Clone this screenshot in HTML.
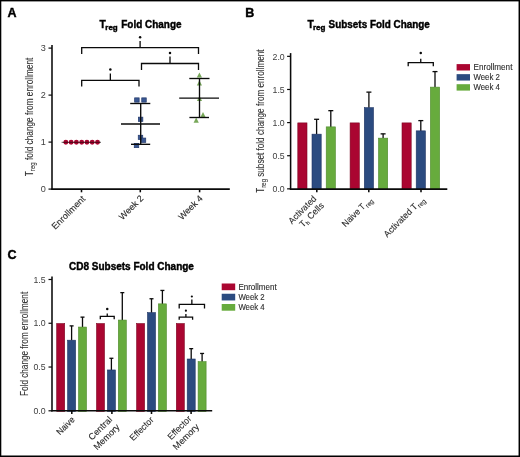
<!DOCTYPE html>
<html><head><meta charset="utf-8"><style>
html,body{margin:0;padding:0;background:#fff;}
svg{display:block;font-family:"Liberation Sans", sans-serif;will-change:transform;}
text{stroke:#2a2a2a;stroke-width:0.12px;}
text[font-weight=bold]{stroke:#000;stroke-width:0.4px;}
text.tk{stroke:none;}
text.yl{stroke:#303030;stroke-width:0.1px;}
</style></head><body>
<svg width="520" height="457" viewBox="0 0 520 457">
<rect width="520" height="457" fill="#fff"/>
<rect x="0" y="0" width="520" height="1.4" fill="#000"/>
<rect x="0" y="0" width="1.3" height="457" fill="#000"/>
<rect x="518.55" y="0" width="1.45" height="457" fill="#000"/>
<rect x="0" y="455.5" width="520" height="1.5" fill="#000"/>
<text x="7.5" y="16.6" font-size="12.5" text-anchor="start" fill="#000" font-weight="bold" >A</text>
<text x="245.3" y="17.2" font-size="12.5" text-anchor="start" fill="#000" font-weight="bold" >B</text>
<text x="7.4" y="258.6" font-size="12.5" text-anchor="start" fill="#000" font-weight="bold" >C</text>
<text x="99.6" y="27.8" font-size="10.3" fill="#000" font-weight="bold">T</text>
<text x="105.3" y="29.7" font-size="7.73" fill="#000" font-weight="bold" textLength="12.4" lengthAdjust="spacingAndGlyphs">reg</text>
<text x="121.3" y="27.8" font-size="10.3" fill="#000" font-weight="bold" textLength="60.2" lengthAdjust="spacingAndGlyphs">Fold Change</text>
<text x="307.6" y="27.9" font-size="10.3" fill="#000" font-weight="bold">T</text>
<text x="313.0" y="29.799999999999997" font-size="7.73" fill="#000" font-weight="bold" textLength="12.5" lengthAdjust="spacingAndGlyphs">reg</text>
<text x="328.6" y="27.9" font-size="10.3" fill="#000" font-weight="bold" textLength="101.3" lengthAdjust="spacingAndGlyphs">Subsets Fold Change</text>
<text x="69.0" y="270.4" font-size="10.3" fill="#000" font-weight="bold" textLength="124.9" lengthAdjust="spacingAndGlyphs">CD8 Subsets Fold Change</text>
<line x1="52" y1="45.0" x2="52" y2="189.79999999999998" stroke="#0a0a0a" stroke-width="1.55"/>
<line x1="51.3" y1="189.1" x2="229.8" y2="189.1" stroke="#0a0a0a" stroke-width="1.55"/>
<line x1="48.5" y1="189.1" x2="52" y2="189.1" stroke="#0a0a0a" stroke-width="1.2"/>
<text x="45.9" y="192.29999999999998" font-size="9.1" text-anchor="end" fill="#404040" font-weight="normal" class="tk">0</text>
<line x1="48.5" y1="142.1" x2="52" y2="142.1" stroke="#0a0a0a" stroke-width="1.2"/>
<text x="45.9" y="145.29999999999998" font-size="9.1" text-anchor="end" fill="#404040" font-weight="normal" class="tk">1</text>
<line x1="48.5" y1="95.1" x2="52" y2="95.1" stroke="#0a0a0a" stroke-width="1.2"/>
<text x="45.9" y="98.3" font-size="9.1" text-anchor="end" fill="#404040" font-weight="normal" class="tk">2</text>
<line x1="48.5" y1="48.099999999999994" x2="52" y2="48.099999999999994" stroke="#0a0a0a" stroke-width="1.2"/>
<text x="45.9" y="51.3" font-size="9.1" text-anchor="end" fill="#404040" font-weight="normal" class="tk">3</text>
<line x1="81.5" y1="189.1" x2="81.5" y2="192.29999999999998" stroke="#0a0a0a" stroke-width="1.55"/>
<line x1="140.3" y1="189.1" x2="140.3" y2="192.29999999999998" stroke="#0a0a0a" stroke-width="1.55"/>
<line x1="199.6" y1="189.1" x2="199.6" y2="192.29999999999998" stroke="#0a0a0a" stroke-width="1.55"/>
<text x="85.8" y="199.5" font-size="9.0" text-anchor="end" fill="#2a2a2a" transform="rotate(-45 85.8 199.5)">Enrollment</text>
<text x="144.0" y="199.0" font-size="9.0" text-anchor="end" fill="#2a2a2a" transform="rotate(-45 144.0 199.0)">Week 2</text>
<text x="203.4" y="199.0" font-size="9.0" text-anchor="end" fill="#2a2a2a" transform="rotate(-45 203.4 199.0)">Week 4</text>
<text x="0" y="0" font-size="10.0" text-anchor="middle" fill="#303030" class="yl" textLength="118.6" lengthAdjust="spacingAndGlyphs" transform="translate(32.9 116.9) rotate(-90)">T<tspan font-size="7.4" dy="2.2">reg</tspan><tspan dy="-2.2"> fold change from enrollment</tspan></text>
<circle cx="65.85" cy="142.3" r="2.45" fill="#aa0631"/>
<circle cx="71.12" cy="142.3" r="2.45" fill="#aa0631"/>
<circle cx="76.40" cy="142.3" r="2.45" fill="#aa0631"/>
<circle cx="81.67" cy="142.3" r="2.45" fill="#aa0631"/>
<circle cx="86.95" cy="142.3" r="2.45" fill="#aa0631"/>
<circle cx="92.22" cy="142.3" r="2.45" fill="#aa0631"/>
<circle cx="97.50" cy="142.3" r="2.45" fill="#aa0631"/>
<line x1="61.6" y1="142.3" x2="101.0" y2="142.3" stroke="rgba(20,10,10,0.55)" stroke-width="1.3"/>
<rect x="134.65" y="97.85" width="4.5" height="4.3" fill="#3a5792" stroke="#22386a" stroke-width="0.7"/>
<rect x="141.75" y="97.85" width="4.5" height="4.3" fill="#3a5792" stroke="#22386a" stroke-width="0.7"/>
<rect x="138.35" y="117.15" width="4.5" height="4.3" fill="#3a5792" stroke="#22386a" stroke-width="0.7"/>
<rect x="138.25" y="135.25" width="4.5" height="4.3" fill="#3a5792" stroke="#22386a" stroke-width="0.7"/>
<rect x="141.25" y="138.05" width="4.5" height="4.3" fill="#3a5792" stroke="#22386a" stroke-width="0.7"/>
<rect x="134.25" y="143.35" width="4.5" height="4.3" fill="#3a5792" stroke="#22386a" stroke-width="0.7"/>
<line x1="140.7" y1="103.5" x2="140.7" y2="144.3" stroke="#0a0a0a" stroke-width="1.35"/>
<line x1="130.2" y1="103.5" x2="150.3" y2="103.5" stroke="#0a0a0a" stroke-width="1.35"/>
<line x1="131.0" y1="144.3" x2="150.2" y2="144.3" stroke="#0a0a0a" stroke-width="1.35"/>
<line x1="121" y1="124.0" x2="160" y2="124.0" stroke="#0a0a0a" stroke-width="1.35"/>
<polygon points="196.8,77.60000000000001 202.0,77.60000000000001 199.4,72.5" fill="#78a85a"/>
<polygon points="196.8,85.4 202.0,85.4 199.4,80.3" fill="#78a85a"/>
<polygon points="196.9,101.0 202.1,101.0 199.5,95.89999999999999" fill="#78a85a"/>
<polygon points="200.4,117.2 205.6,117.2 203,112.1" fill="#78a85a"/>
<polygon points="193.6,122.7 198.79999999999998,122.7 196.2,117.6" fill="#78a85a"/>
<line x1="199.5" y1="78.5" x2="199.5" y2="117.5" stroke="#0a0a0a" stroke-width="1.35"/>
<line x1="189.3" y1="78.5" x2="209.5" y2="78.5" stroke="#0a0a0a" stroke-width="1.35"/>
<line x1="189.4" y1="117.5" x2="209.0" y2="117.5" stroke="#0a0a0a" stroke-width="1.35"/>
<line x1="179.2" y1="98.1" x2="219" y2="98.1" stroke="#0a0a0a" stroke-width="1.35"/>
<path d="M81.7 54.0 V47.7 H198.5 V54.0 M140.1 47.7 V41.1" fill="none" stroke="#0a0a0a" stroke-width="1.3"/>
<circle cx="140.1" cy="37.2" r="1.25" fill="#0a0a0a"/>
<path d="M141.5 69.9 V63.5 H198.5 V69.9 M170.0 63.5 V56.6" fill="none" stroke="#0a0a0a" stroke-width="1.3"/>
<circle cx="170.0" cy="52.9" r="1.25" fill="#0a0a0a"/>
<path d="M81.7 86.5 V80.4 H139.0 V86.5 M110.35 80.4 V73.4" fill="none" stroke="#0a0a0a" stroke-width="1.3"/>
<circle cx="110.35" cy="69.4" r="1.25" fill="#0a0a0a"/>
<line x1="290.6" y1="53.1" x2="290.6" y2="189.79999999999998" stroke="#0a0a0a" stroke-width="1.55"/>
<line x1="287.1" y1="188.85" x2="290.6" y2="188.85" stroke="#0a0a0a" stroke-width="1.2"/>
<text x="284.7" y="192.04999999999998" font-size="9.1" text-anchor="end" fill="#404040" font-weight="normal" textLength="12.2" lengthAdjust="spacingAndGlyphs" class="tk">0.0</text>
<line x1="287.1" y1="155.725" x2="290.6" y2="155.725" stroke="#0a0a0a" stroke-width="1.2"/>
<text x="284.7" y="158.92499999999998" font-size="9.1" text-anchor="end" fill="#404040" font-weight="normal" textLength="12.2" lengthAdjust="spacingAndGlyphs" class="tk">0.5</text>
<line x1="287.1" y1="122.6" x2="290.6" y2="122.6" stroke="#0a0a0a" stroke-width="1.2"/>
<text x="284.7" y="125.8" font-size="9.1" text-anchor="end" fill="#404040" font-weight="normal" textLength="12.2" lengthAdjust="spacingAndGlyphs" class="tk">1.0</text>
<line x1="287.1" y1="89.475" x2="290.6" y2="89.475" stroke="#0a0a0a" stroke-width="1.2"/>
<text x="284.7" y="92.675" font-size="9.1" text-anchor="end" fill="#404040" font-weight="normal" textLength="12.2" lengthAdjust="spacingAndGlyphs" class="tk">1.5</text>
<line x1="287.1" y1="56.349999999999994" x2="290.6" y2="56.349999999999994" stroke="#0a0a0a" stroke-width="1.2"/>
<text x="284.7" y="59.55" font-size="9.1" text-anchor="end" fill="#404040" font-weight="normal" textLength="12.2" lengthAdjust="spacingAndGlyphs" class="tk">2.0</text>
<rect x="297.80" y="122.90" width="9.20" height="66.55" fill="#aa0631" stroke="#7d0522" stroke-width="0.6"/>
<line x1="316.59999999999997" y1="119.2875" x2="316.59999999999997" y2="134.3625" stroke="#0a0a0a" stroke-width="1.3"/>
<line x1="314.09999999999997" y1="119.2875" x2="319.09999999999997" y2="119.2875" stroke="#0a0a0a" stroke-width="1.3"/>
<rect x="312.00" y="134.16" width="9.20" height="55.29" fill="#2b4b80" stroke="#1f3463" stroke-width="0.6"/>
<line x1="330.79999999999995" y1="110.675" x2="330.79999999999995" y2="127.07499999999999" stroke="#0a0a0a" stroke-width="1.3"/>
<line x1="328.29999999999995" y1="110.675" x2="333.29999999999995" y2="110.675" stroke="#0a0a0a" stroke-width="1.3"/>
<rect x="326.20" y="126.87" width="9.20" height="62.58" fill="#67ab3d" stroke="#4f8a2c" stroke-width="0.6"/>
<rect x="350.10" y="122.90" width="9.20" height="66.55" fill="#aa0631" stroke="#7d0522" stroke-width="0.6"/>
<line x1="368.9" y1="92.125" x2="368.9" y2="107.8625" stroke="#0a0a0a" stroke-width="1.3"/>
<line x1="366.4" y1="92.125" x2="371.4" y2="92.125" stroke="#0a0a0a" stroke-width="1.3"/>
<rect x="364.30" y="107.66" width="9.20" height="81.79" fill="#2b4b80" stroke="#1f3463" stroke-width="0.6"/>
<line x1="383.09999999999997" y1="133.8625" x2="383.09999999999997" y2="138.33749999999998" stroke="#0a0a0a" stroke-width="1.3"/>
<line x1="380.59999999999997" y1="133.8625" x2="385.59999999999997" y2="133.8625" stroke="#0a0a0a" stroke-width="1.3"/>
<rect x="378.50" y="138.14" width="9.20" height="51.31" fill="#67ab3d" stroke="#4f8a2c" stroke-width="0.6"/>
<rect x="402.00" y="122.90" width="9.20" height="66.55" fill="#aa0631" stroke="#7d0522" stroke-width="0.6"/>
<line x1="420.79999999999995" y1="120.6125" x2="420.79999999999995" y2="131.05" stroke="#0a0a0a" stroke-width="1.3"/>
<line x1="418.29999999999995" y1="120.6125" x2="423.29999999999995" y2="120.6125" stroke="#0a0a0a" stroke-width="1.3"/>
<rect x="416.20" y="130.85" width="9.20" height="58.60" fill="#2b4b80" stroke="#1f3463" stroke-width="0.6"/>
<line x1="434.99999999999994" y1="71.58749999999999" x2="434.99999999999994" y2="87.32499999999999" stroke="#0a0a0a" stroke-width="1.3"/>
<line x1="432.49999999999994" y1="71.58749999999999" x2="437.49999999999994" y2="71.58749999999999" stroke="#0a0a0a" stroke-width="1.3"/>
<rect x="430.40" y="87.12" width="9.20" height="102.33" fill="#67ab3d" stroke="#4f8a2c" stroke-width="0.6"/>
<line x1="289.90000000000003" y1="189.1" x2="447.3" y2="189.1" stroke="#0a0a0a" stroke-width="1.55"/>
<line x1="316.8" y1="189.1" x2="316.8" y2="192.29999999999998" stroke="#0a0a0a" stroke-width="1.55"/>
<line x1="368.8" y1="189.1" x2="368.8" y2="192.29999999999998" stroke="#0a0a0a" stroke-width="1.55"/>
<line x1="421.0" y1="189.1" x2="421.0" y2="192.29999999999998" stroke="#0a0a0a" stroke-width="1.55"/>
<path d="M408.2 66.3 V62.7 H433.3 V66.3 M420.75 62.7 V58.800000000000004" fill="none" stroke="#0a0a0a" stroke-width="1.3"/>
<circle cx="420.75" cy="53.0" r="1.25" fill="#0a0a0a"/>
<rect x="456.6" y="64.1" width="13.4" height="6.4" fill="#aa0631"/>
<text x="473.5" y="70.2" font-size="8.7" text-anchor="start" fill="#2a2a2a" font-weight="normal" textLength="38.9" lengthAdjust="spacingAndGlyphs" >Enrollment</text>
<rect x="456.6" y="74.14999999999999" width="13.4" height="6.4" fill="#2b4b80"/>
<text x="473.5" y="80.25" font-size="8.7" text-anchor="start" fill="#2a2a2a" font-weight="normal" textLength="26.4" lengthAdjust="spacingAndGlyphs" >Week 2</text>
<rect x="456.6" y="84.19999999999999" width="13.4" height="6.4" fill="#67ab3d"/>
<text x="473.5" y="90.30000000000001" font-size="8.7" text-anchor="start" fill="#2a2a2a" font-weight="normal" textLength="26.4" lengthAdjust="spacingAndGlyphs" >Week 4</text>
<text x="0" y="0" font-size="10.0" text-anchor="middle" fill="#303030" class="yl" textLength="143.2" lengthAdjust="spacingAndGlyphs" transform="translate(264 121.1) rotate(-90)">T<tspan font-size="7.4" dy="2.2">reg</tspan><tspan dy="-2.2"> subset fold change from enrollment</tspan></text>
<text x="317.0" y="199.3" font-size="9.0" text-anchor="end" fill="#2a2a2a" textLength="35.5" lengthAdjust="spacingAndGlyphs" transform="rotate(-45 317.0 199.3)">Activated</text>
<text x="324.6" y="206.2" font-size="9.0" text-anchor="end" fill="#2a2a2a" textLength="30.5" lengthAdjust="spacingAndGlyphs" transform="rotate(-45 324.6 206.2)">T<tspan font-size="6.0" dy="2.0">h</tspan><tspan dy="-2.0"> Cells</tspan></text>
<text x="372.6" y="200.3" font-size="9.0" text-anchor="end" fill="#2a2a2a" textLength="38.3" lengthAdjust="spacingAndGlyphs" transform="rotate(-45 372.6 200.3)">Naive T<tspan font-size="6.6" dx="0.7" dy="2.3">reg</tspan></text>
<text x="425.0" y="200.0" font-size="9.0" text-anchor="end" fill="#2a2a2a" textLength="53.3" lengthAdjust="spacingAndGlyphs" transform="rotate(-45 425.0 200.0)">Activated T<tspan font-size="6.6" dx="0.7" dy="2.3">reg</tspan></text>
<line x1="52.0" y1="276.5" x2="52.0" y2="411.5" stroke="#0a0a0a" stroke-width="1.55"/>
<line x1="48.5" y1="410.8" x2="52.0" y2="410.8" stroke="#0a0a0a" stroke-width="1.2"/>
<text x="45.6" y="414.0" font-size="9.1" text-anchor="end" fill="#404040" font-weight="normal" textLength="12.2" lengthAdjust="spacingAndGlyphs" class="tk">0.0</text>
<line x1="48.5" y1="367.03000000000003" x2="52.0" y2="367.03000000000003" stroke="#0a0a0a" stroke-width="1.2"/>
<text x="45.6" y="370.23" font-size="9.1" text-anchor="end" fill="#404040" font-weight="normal" textLength="12.2" lengthAdjust="spacingAndGlyphs" class="tk">0.5</text>
<line x1="48.5" y1="323.26" x2="52.0" y2="323.26" stroke="#0a0a0a" stroke-width="1.2"/>
<text x="45.6" y="326.46" font-size="9.1" text-anchor="end" fill="#404040" font-weight="normal" textLength="12.2" lengthAdjust="spacingAndGlyphs" class="tk">1.0</text>
<line x1="48.5" y1="279.49" x2="52.0" y2="279.49" stroke="#0a0a0a" stroke-width="1.2"/>
<text x="45.6" y="282.69" font-size="9.1" text-anchor="end" fill="#404040" font-weight="normal" textLength="12.2" lengthAdjust="spacingAndGlyphs" class="tk">1.5</text>
<rect x="56.70" y="323.56" width="8.00" height="87.84" fill="#aa0631" stroke="#7d0522" stroke-width="0.6"/>
<line x1="71.6" y1="325.88620000000003" x2="71.6" y2="340.3926" stroke="#0a0a0a" stroke-width="1.3"/>
<line x1="69.6" y1="325.88620000000003" x2="73.6" y2="325.88620000000003" stroke="#0a0a0a" stroke-width="1.3"/>
<rect x="67.60" y="340.19" width="8.00" height="71.21" fill="#2b4b80" stroke="#1f3463" stroke-width="0.6"/>
<line x1="82.5" y1="317.1322" x2="82.5" y2="327.2616" stroke="#0a0a0a" stroke-width="1.3"/>
<line x1="80.5" y1="317.1322" x2="84.5" y2="317.1322" stroke="#0a0a0a" stroke-width="1.3"/>
<rect x="78.50" y="327.06" width="8.00" height="84.34" fill="#67ab3d" stroke="#4f8a2c" stroke-width="0.6"/>
<rect x="96.50" y="323.56" width="8.00" height="87.84" fill="#aa0631" stroke="#7d0522" stroke-width="0.6"/>
<line x1="111.4" y1="358.276" x2="111.4" y2="370.1562" stroke="#0a0a0a" stroke-width="1.3"/>
<line x1="109.4" y1="358.276" x2="113.4" y2="358.276" stroke="#0a0a0a" stroke-width="1.3"/>
<rect x="107.40" y="369.96" width="8.00" height="41.44" fill="#2b4b80" stroke="#1f3463" stroke-width="0.6"/>
<line x1="122.3" y1="292.621" x2="122.3" y2="320.2584" stroke="#0a0a0a" stroke-width="1.3"/>
<line x1="120.3" y1="292.621" x2="124.3" y2="292.621" stroke="#0a0a0a" stroke-width="1.3"/>
<rect x="118.30" y="320.06" width="8.00" height="91.34" fill="#67ab3d" stroke="#4f8a2c" stroke-width="0.6"/>
<rect x="136.60" y="323.56" width="8.00" height="87.84" fill="#aa0631" stroke="#7d0522" stroke-width="0.6"/>
<line x1="151.50000000000003" y1="298.7488" x2="151.50000000000003" y2="312.8175" stroke="#0a0a0a" stroke-width="1.3"/>
<line x1="149.50000000000003" y1="298.7488" x2="153.50000000000003" y2="298.7488" stroke="#0a0a0a" stroke-width="1.3"/>
<rect x="147.50" y="312.62" width="8.00" height="98.78" fill="#2b4b80" stroke="#1f3463" stroke-width="0.6"/>
<line x1="162.40000000000003" y1="290.4325" x2="162.40000000000003" y2="304.0635" stroke="#0a0a0a" stroke-width="1.3"/>
<line x1="160.40000000000003" y1="290.4325" x2="164.40000000000003" y2="290.4325" stroke="#0a0a0a" stroke-width="1.3"/>
<rect x="158.40" y="303.86" width="8.00" height="107.54" fill="#67ab3d" stroke="#4f8a2c" stroke-width="0.6"/>
<rect x="176.30" y="323.56" width="8.00" height="87.84" fill="#aa0631" stroke="#7d0522" stroke-width="0.6"/>
<line x1="191.20000000000002" y1="348.64660000000003" x2="191.20000000000002" y2="359.2137" stroke="#0a0a0a" stroke-width="1.3"/>
<line x1="189.20000000000002" y1="348.64660000000003" x2="193.20000000000002" y2="348.64660000000003" stroke="#0a0a0a" stroke-width="1.3"/>
<rect x="187.20" y="359.01" width="8.00" height="52.39" fill="#2b4b80" stroke="#1f3463" stroke-width="0.6"/>
<line x1="202.10000000000002" y1="353.4613" x2="202.10000000000002" y2="361.8399" stroke="#0a0a0a" stroke-width="1.3"/>
<line x1="200.10000000000002" y1="353.4613" x2="204.10000000000002" y2="353.4613" stroke="#0a0a0a" stroke-width="1.3"/>
<rect x="198.10" y="361.64" width="8.00" height="49.76" fill="#67ab3d" stroke="#4f8a2c" stroke-width="0.6"/>
<line x1="51.3" y1="410.8" x2="212.2" y2="410.8" stroke="#0a0a0a" stroke-width="1.55"/>
<line x1="71.8" y1="410.8" x2="71.8" y2="414.0" stroke="#0a0a0a" stroke-width="1.55"/>
<line x1="111.9" y1="410.8" x2="111.9" y2="414.0" stroke="#0a0a0a" stroke-width="1.55"/>
<line x1="151.5" y1="410.8" x2="151.5" y2="414.0" stroke="#0a0a0a" stroke-width="1.55"/>
<line x1="191.1" y1="410.8" x2="191.1" y2="414.0" stroke="#0a0a0a" stroke-width="1.55"/>
<path d="M100.3 319.29999999999995 V316.4 H114.2 V319.29999999999995 M107.25 316.4 V313.59999999999997" fill="none" stroke="#0a0a0a" stroke-width="1.3"/>
<circle cx="107.25" cy="309.1" r="1.25" fill="#0a0a0a"/>
<path d="M179.2 308.4 V304.4 H204.5 V308.4 M191.85 304.4 V299.4" fill="none" stroke="#0a0a0a" stroke-width="1.3"/>
<circle cx="191.85" cy="296.5" r="1.1" fill="#0a0a0a"/>
<path d="M179.2 319.7 V317.2 H192.6 V319.7 M185.89999999999998 317.2 V314.09999999999997" fill="none" stroke="#0a0a0a" stroke-width="1.3"/>
<circle cx="185.89999999999998" cy="310.7" r="1.1" fill="#0a0a0a"/>
<rect x="221.7" y="283.5" width="13.5" height="6.7" fill="#aa0631"/>
<text x="238.4" y="289.8" font-size="8.7" text-anchor="start" fill="#2a2a2a" font-weight="normal" textLength="38.3" lengthAdjust="spacingAndGlyphs" >Enrollment</text>
<rect x="221.7" y="293.75" width="13.5" height="6.7" fill="#2b4b80"/>
<text x="238.4" y="300.05" font-size="8.7" text-anchor="start" fill="#2a2a2a" font-weight="normal" textLength="26.3" lengthAdjust="spacingAndGlyphs" >Week 2</text>
<rect x="221.7" y="304.0" width="13.5" height="6.7" fill="#67ab3d"/>
<text x="238.4" y="310.3" font-size="8.7" text-anchor="start" fill="#2a2a2a" font-weight="normal" textLength="26.3" lengthAdjust="spacingAndGlyphs" >Week 4</text>
<text x="0" y="0" font-size="10.0" text-anchor="middle" fill="#303030" class="yl" textLength="104.2" lengthAdjust="spacingAndGlyphs" transform="translate(27.7 343.9) rotate(-90)">Fold change from enrollment</text>
<text x="75.2" y="420.3" font-size="9.0" text-anchor="end" fill="#2a2a2a" textLength="21.5" lengthAdjust="spacingAndGlyphs" transform="rotate(-45 75.2 420.3)">Naive</text>
<text x="112.6" y="420.2" font-size="9.0" text-anchor="end" fill="#2a2a2a" transform="rotate(-45 112.6 420.2)">Central</text>
<text x="120.3" y="427.6" font-size="9.0" text-anchor="end" fill="#2a2a2a" transform="rotate(-45 120.3 427.6)">Memory</text>
<text x="154.2" y="420.5" font-size="9.0" text-anchor="end" fill="#2a2a2a" textLength="29.5" lengthAdjust="spacingAndGlyphs" transform="rotate(-45 154.2 420.5)">Effector</text>
<text x="192.0" y="419.3" font-size="9.0" text-anchor="end" fill="#2a2a2a" textLength="29.5" lengthAdjust="spacingAndGlyphs" transform="rotate(-45 192.0 419.3)">Effector</text>
<text x="199.6" y="427.4" font-size="9.0" text-anchor="end" fill="#2a2a2a" transform="rotate(-45 199.6 427.4)">Memory</text>
</svg>
</body></html>
